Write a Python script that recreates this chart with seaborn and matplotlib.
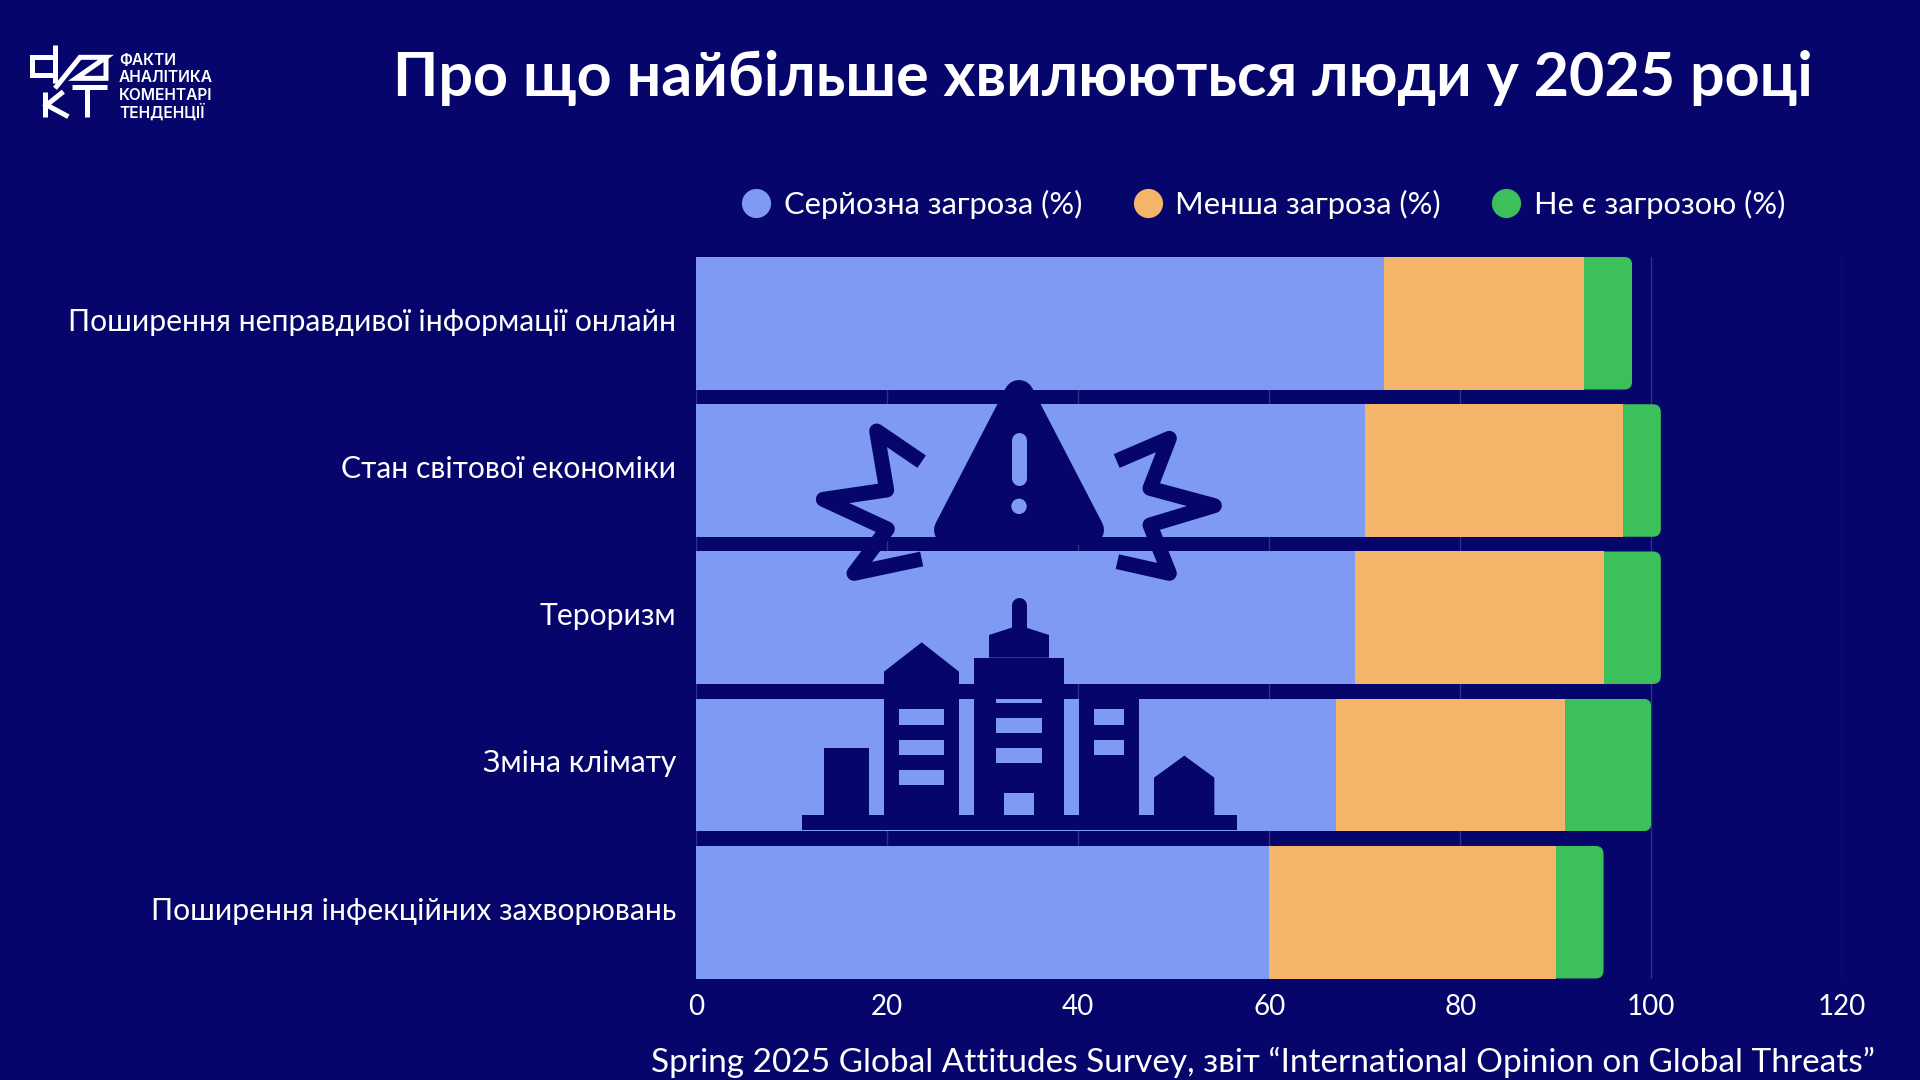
import matplotlib
matplotlib.use("Agg")
import matplotlib.pyplot as plt
import pandas as pd
import seaborn as sns
from matplotlib.lines import Line2D
from matplotlib.patches import Circle, FancyBboxPatch, Polygon, Rectangle
from matplotlib.transforms import IdentityTransform, ScaledTranslation

# Survey results, percent of respondents
threats = [
    "Поширення неправдивої інформації онлайн",
    "Стан світової економіки",
    "Тероризм",
    "Зміна клімату",
    "Поширення інфекційних захворювань",
]
major_threat = [72, 70, 69, 67, 60]
minor_threat = [21, 27, 26, 24, 30]
no_threat = [5, 4, 6, 9, 5]
series_names = ["Серйозна загроза (%)", "Менша загроза (%)", "Не є загрозою (%)"]
x_ticks = [0, 20, 40, 60, 80, 100, 120]

title_text = "Про що найбільше хвилюються люди у 2025 році"
source_text = "Spring 2025 Global Attitudes Survey, звіт “International Opinion on Global Threats”"
logo_lines = ["ФАКТИ", "АНАЛІТИКА", "КОМЕНТАРІ", "ТЕНДЕНЦІЇ"]

NAVY = "#05056B"
BLUE = "#7F9AF3"
ORANGE = "#F4B46A"
GREEN = "#3BC05B"
GRID = "#2F3089"
WHITE = "#FFFFFF"
FONT = ["Lato", "Open Sans", "DejaVu Sans"]

sns.set_theme(style="dark")
plt.rcParams["font.family"] = FONT

W, H = 1920, 1080
fig = plt.figure(figsize=(W / 100, H / 100), dpi=100, facecolor=NAVY)
ax = fig.add_axes([696.3 / W, 1 - 978.5 / H, (1842.3 - 696.3) / W, (978.5 - 257) / H], facecolor=NAVY)

df = pd.DataFrame({"threat": threats, "major": major_threat, "minor": minor_threat, "none": no_threat})
df["to_minor"] = df["major"] + df["minor"]
df["to_none"] = df["to_minor"] + df["none"]

# Stacked bars: the longest cumulative layer goes first, shorter ones on top
sns.barplot(data=df, y="threat", x="to_none", color=GREEN, saturation=1, width=0.9, linewidth=0, ax=ax, zorder=2)
n_green = len(ax.patches)
sns.barplot(data=df, y="threat", x="to_minor", color=ORANGE, saturation=1, width=0.9, linewidth=0, ax=ax, zorder=3)
sns.barplot(data=df, y="threat", x="major", color=BLUE, saturation=1, width=0.9, linewidth=0, ax=ax, zorder=4)

ax.set_xlim(0, 120)
ax.set_ylim(4.45, -0.45)
ax.set_xticks(x_ticks)
ax.set_xlabel("")
ax.set_ylabel("")
ax.xaxis.grid(True, color=GRID, linewidth=1.0, zorder=0)
ax.yaxis.grid(False)
ax.set_axisbelow(True)
for spine in ax.spines.values():
    spine.set_visible(False)
ax.tick_params(axis="x", length=0, pad=11.5, colors=WHITE, labelsize=20)
ax.tick_params(axis="y", length=0, pad=14.5, colors=WHITE, labelsize=21.7)

# Lift the category labels slightly relative to the bar centres
lift = ScaledTranslation(0, 3 / 72, fig.dpi_scale_trans)
for label in ax.get_yticklabels():
    label.set_transform(label.get_transform() + lift)

# Round the outer corners of the last segment of each bar
renderer = fig.canvas.get_renderer()
for bar in ax.patches[:n_green]:
    box = bar.get_window_extent(renderer)
    radius = 8
    clip = FancyBboxPatch(
        (box.x0 - 50, box.y0 + radius), box.width + 50 - radius, box.height - 2 * radius,
        boxstyle=f"round,pad={radius},rounding_size={radius}",
        transform=IdentityTransform(),
    )
    bar.set_clip_path(clip)

# Legend above the bars
handles = [
    Line2D([], [], linestyle="none", marker="o", markersize=21, markerfacecolor=c, markeredgewidth=0)
    for c in (BLUE, ORANGE, GREEN)
]
fig.legend(
    handles, series_names, ncol=3, frameon=False, labelcolor=WHITE, fontsize=22.2,
    loc="center right", bbox_to_anchor=(1785 / W, 1 - 204 / H), borderaxespad=0, borderpad=0,
    handletextpad=0.385, columnspacing=1.63, handlelength=1.0,
)

# Overlay in pixel coordinates for title, source, logo and pictograms
ov = fig.add_axes([0, 0, 1, 1], facecolor="none", zorder=10)
ov.set_xlim(0, W)
ov.set_ylim(H, 0)
ov.axis("off")

ov.text(1103, 78.5, title_text, color=WHITE, fontsize=43.9, fontweight="bold", ha="center", va="center")
ov.text(1875, 1062, source_text, color=WHITE, fontsize=24, ha="right", va="center")


def zx(x):
    return 780 + x / 3


def zy(y):
    return 360 + y / 3


def stroke(points, width_px, color=NAVY, cap="butt", join="round"):
    ov.plot(
        [zx(p[0]) for p in points], [zy(p[1]) for p in points],
        color=color, lw=width_px * 0.72, solid_capstyle=cap, solid_joinstyle=join,
    )


def poly(points, color=NAVY):
    ov.add_patch(Polygon([(zx(x), zy(y)) for x, y in points], closed=True, fc=color, ec="none"))


def rect(x0, y0, x1, y1, color=NAVY):
    ov.add_patch(Rectangle((zx(x0), zy(y0)), (x1 - x0) / 3, (y1 - y0) / 3, fc=color, ec="none"))


# Warning pictogram
ov.add_patch(Polygon(
    [(zx(717), zy(105)), (zx(927), zy(510)), (zx(507), zy(510))], closed=True,
    fc=NAVY, ec=NAVY, lw=30 * 0.72, joinstyle="round",
))
stroke([(717, 240), (717, 353)], 15, color=BLUE, cap="round")
ov.add_patch(Circle((zx(717), zy(439)), 7.7, fc=BLUE, ec="none"))
stroke([(425, 305), (290, 213), (320, 390), (130, 418), (322, 507), (222, 640), (425, 597)], 15)
stroke([(1010, 303), (1168, 235), (1110, 385), (1303, 437), (1110, 495), (1168, 640), (1012, 605)], 15)

# City pictogram
rect(65, 1365, 1370, 1410)
rect(132, 1163, 267, 1365)
poly([(312, 935), (425, 847), (537, 935), (537, 1365), (312, 1365)])
for top, bottom in [(1048, 1094), (1139, 1184), (1229, 1274)]:
    rect(357, top, 492, bottom, BLUE)
rect(582, 893, 852, 1365)
poly([(627, 893), (627, 825), (695, 803), (739, 803), (807, 825), (807, 893)])
stroke([(717, 735), (717, 810)], 15, cap="round")
for top, bottom in [(1018, 1028), (1073, 1118), (1163, 1208)]:
    rect(649, top, 785, bottom, BLUE)
rect(672, 1298, 762, 1365, BLUE)
rect(897, 1000, 1077, 1365)
for top, bottom in [(1048, 1094), (1139, 1184)]:
    rect(942, top, 1032, bottom, BLUE)
poly([(1122, 1253), (1213, 1187), (1303, 1253), (1303, 1365), (1122, 1365)])


# Logo mark
def logo_stroke(points):
    ov.plot(
        [p[0] / 3 for p in points], [20 + p[1] / 3 for p in points],
        color=WHITE, lw=5 * 0.72, solid_capstyle="butt", solid_joinstyle="miter",
    )


logo_stroke([(165, 75), (165, 190)])
logo_stroke([(165, 112), (95, 112), (95, 165), (165, 165)])
logo_stroke([(165, 205), (240, 112), (318, 112), (228, 175), (318, 175), (318, 108)])
logo_stroke([(135, 215), (135, 290)])
logo_stroke([(190, 215), (140, 255), (205, 290)])
logo_stroke([(215, 200), (322, 200)])
logo_stroke([(262, 200), (262, 290)])

for label, y in zip(logo_lines, [60, 77, 95, 112]):
    ov.text(119, y, label, color=WHITE, fontsize=11.2, fontweight="semibold", ha="left", va="center",
            family=["Inter", "DejaVu Sans"])

fig.savefig("out.png", dpi=100, facecolor=NAVY)
